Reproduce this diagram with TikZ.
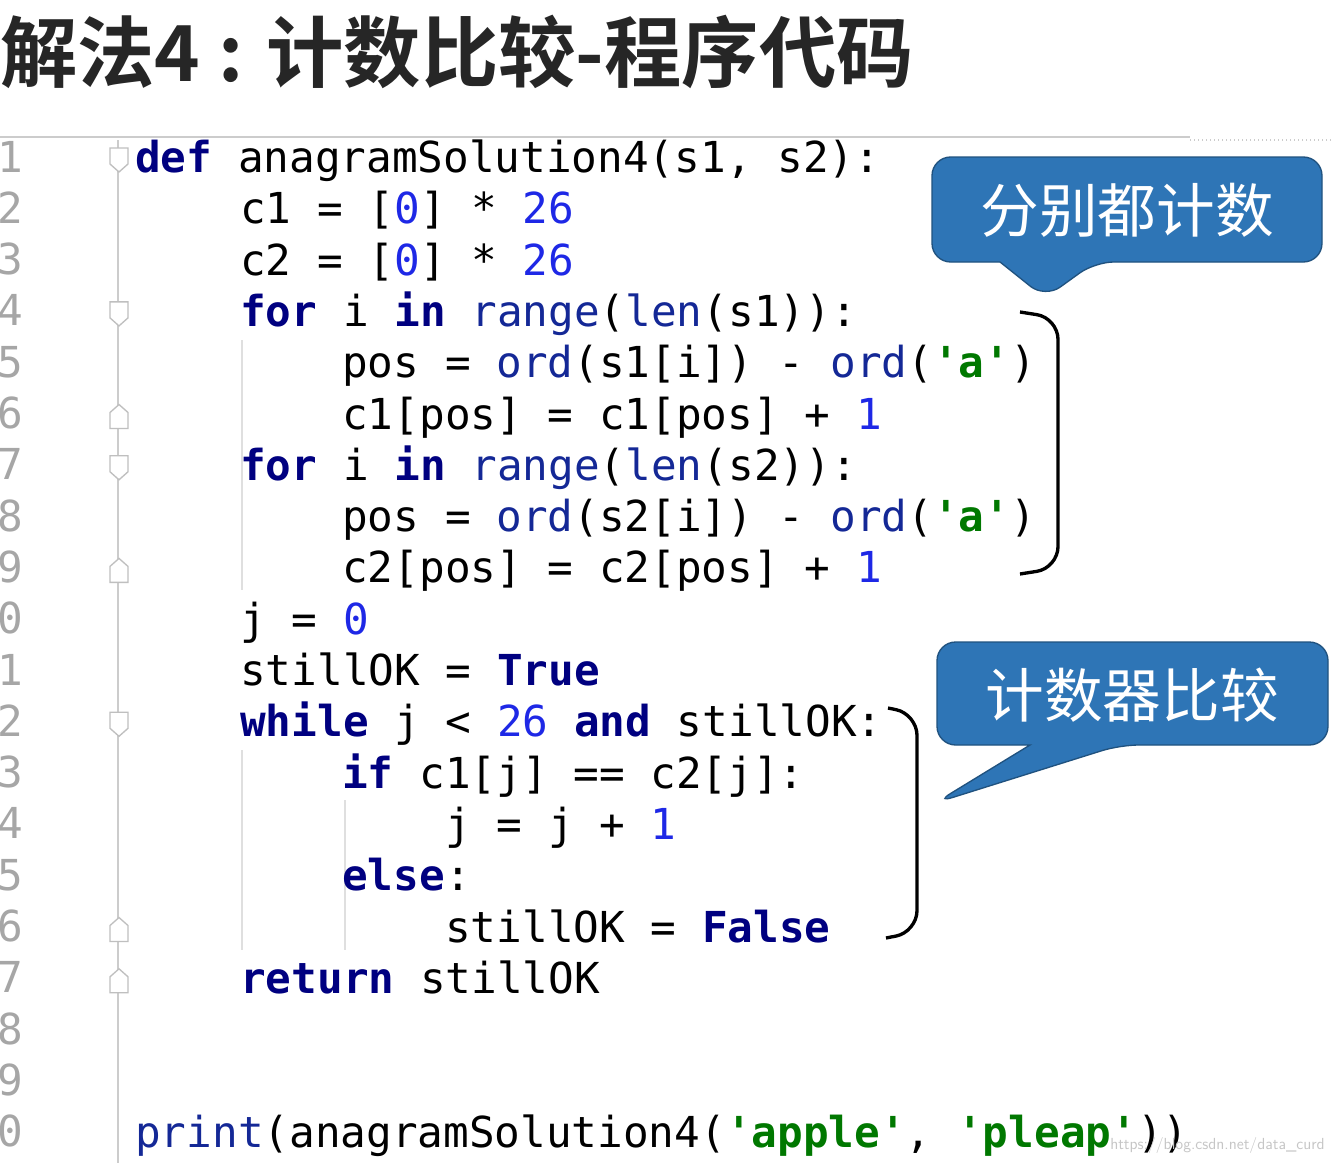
\documentclass[tikz,border=0pt]{standalone}
\usepackage{fontspec}
\setmonofont{DejaVu Sans Mono}
\newfontfamily\cjk{Noto Sans CJK SC}
\newfontfamily\cjkb{Noto Sans CJK SC Bold}
\definecolor{kwc}{RGB}{0,0,128}
\definecolor{nmc}{RGB}{30,40,230}
\definecolor{fnc}{RGB}{20,40,150}
\definecolor{stc}{RGB}{0,120,0}
\definecolor{callc}{RGB}{46,117,182}
\newcommand{\kw}[1]{\textcolor{kwc}{\bfseries #1}}
\newcommand{\nm}[1]{\textcolor{nmc}{#1}}
\newcommand{\fn}[1]{\textcolor{fnc}{#1}}
\newcommand{\st}[1]{\textcolor{stc}{\bfseries #1}}
\tikzset{
  codeline/.style={anchor=base west, inner sep=0pt, font=\ttfamily\fontsize{32}{32}\selectfont},
  lineno/.style={anchor=base west, inner sep=0pt, text=gray!70, font=\ttfamily\fontsize{32}{32}\selectfont},
  callout/.style={fill=callc, draw=callc!70!black, line width=1pt, rounded corners=14pt},
  callouttext/.style={text=white, font=\cjk\fontsize{44}{44}\selectfont},
  foldmark/.style={draw=gray!50, fill=white, line width=1pt},
  guide/.style={draw=gray!25, line width=1pt},
  bracket/.style={draw=black, line width=2.5pt, rounded corners=16pt}
}
\begin{document}
\begin{tikzpicture}[x=0.75pt,y=-0.75pt]
\useasboundingbox[fill=white] (0,0) rectangle (1332,1163);
% title
\node[anchor=west, inner sep=0pt, text=black!85, font=\cjkb\fontsize{58}{58}\selectfont] (title) at (0,52) {解法4 : 计数比较-程序代码};
\draw[gray!40, line width=1.5pt] (0,137) -- (1190,137);
\draw[gray!40, dotted, line width=1pt] (1190,140) -- (1332,140);
% gutter
\draw[gray!40, line width=1.5pt] (118,140) -- (118,1163);
\foreach \n [count=\i] in {1,2,3,4,5,6,7,8,9,0,1,2,3,4,5,6,7,8,9,0}
  \node[lineno] (ln\i) at (-3,{160+51.3*(\i-1)+12}) {\n};
% fold markers
\foreach \i in {1,4,7,12}
  \draw[foldmark] ({110},{160+51.3*(\i-1)-12}) -- ++(18,0) -- ++(0,16) -- ++(-9,8) -- ++(-9,-8) -- cycle;
\foreach \i in {6,9,16,17}
  \draw[foldmark] ({110},{160+51.3*(\i-1)+12}) -- ++(18,0) -- ++(0,-16) -- ++(-9,-8) -- ++(-9,8) -- cycle;
% indent guides
\draw[guide] (242,340) -- (242,590);
\draw[guide] (242,750) -- (242,950);
\draw[guide] (345,800) -- (345,950);
% code
\node[codeline] (c1) at (135,172) {\kw{def} anagramSolution4(s1, s2):};
\node[codeline] (c2) at (240,223) {c1 = [\nm{0}] * \nm{26}};
\node[codeline] (c3) at (240,275) {c2 = [\nm{0}] * \nm{26}};
\node[codeline] (c4) at (240,326) {\kw{for} i \kw{in} \fn{range}(\fn{len}(s1)):};
\node[codeline] (c5) at (342,377) {pos = \fn{ord}(s1[i]) - \fn{ord}(\st{'a'})};
\node[codeline] (c6) at (342,429) {c1[pos] = c1[pos] + \nm{1}};
\node[codeline] (c7) at (240,480) {\kw{for} i \kw{in} \fn{range}(\fn{len}(s2)):};
\node[codeline] (c8) at (342,531) {pos = \fn{ord}(s2[i]) - \fn{ord}(\st{'a'})};
\node[codeline] (c9) at (342,582) {c2[pos] = c2[pos] + \nm{1}};
\node[codeline] (c10) at (240,634) {j = \nm{0}};
\node[codeline] (c11) at (240,685) {stillOK = \kw{True}};
\node[codeline] (c12) at (240,736) {\kw{while} j < \nm{26} \kw{and} stillOK:};
\node[codeline] (c13) at (342,788) {\kw{if} c1[j] == c2[j]:};
\node[codeline] (c14) at (445,839) {j = j + \nm{1}};
\node[codeline] (c15) at (342,890) {\kw{else}:};
\node[codeline] (c16) at (445,942) {stillOK = \kw{False}};
\node[codeline] (c17) at (240,993) {\kw{return} stillOK};
\node[codeline] (c20) at (135,1147) {\fn{print}(anagramSolution4(\st{'apple'}, \st{'pleap'}))};
% brackets
\draw[bracket] (1020,312) -- (1058,318) -- (1058,568) -- (1020,574);
\draw[bracket] (888,708) -- (917,714) -- (917,932) -- (886,938);
% callouts
\draw[callout] (932,157) -- (1322,157) -- (1322,262) -- (1095,262)
  -- (1045,298)[sharp corners] -- (1000,262)[rounded corners=14pt] -- (932,262) -- cycle;
\node[callouttext] (call1) at (1127,210) {分别都计数};
\draw[callout] (937,642) -- (1328,642) -- (1328,745) -- (1120,745)
  -- (935,803)[sharp corners] -- (1030,745)[rounded corners=14pt] -- (937,745) -- cycle;
\node[callouttext] (call2) at (1132,695) {计数器比较};
% watermark
\node[anchor=east, inner sep=0pt, text=gray!45, font=\sffamily\fontsize{12}{12}\selectfont] (wm) at (1325,1145) {https://blog.csdn.net/data\_curd};
\end{tikzpicture}
\end{document}
